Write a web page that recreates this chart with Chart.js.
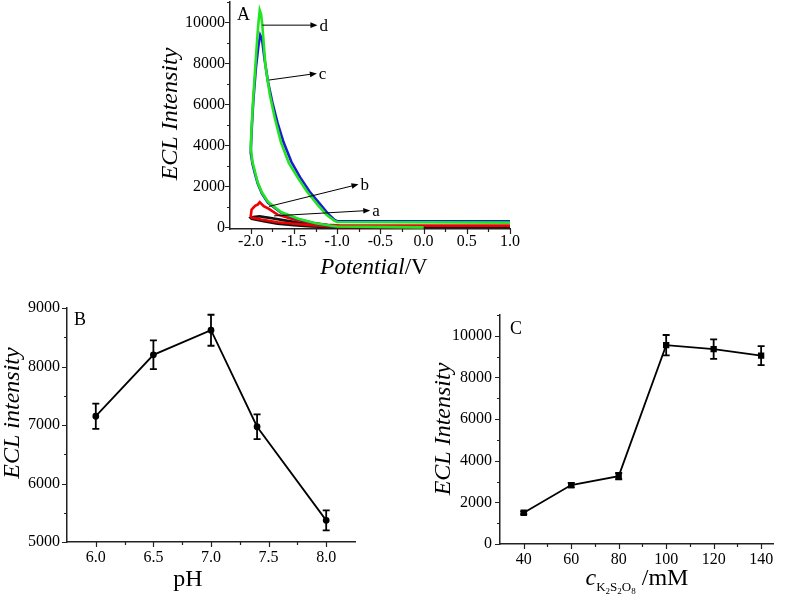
<!DOCTYPE html>
<html><head><meta charset="utf-8">
<script src="https://cdn.jsdelivr.net/npm/chart.js@4/dist/chart.umd.min.js"></script>
<style>
html,body{margin:0;padding:0;background:#fff;}
body{width:787px;height:598px;position:relative;overflow:hidden;}
canvas{position:absolute;display:block;}
</style></head><body>
<canvas id="cA" width="400" height="290" style="left:130px;top:0px;width:400px;height:290px"></canvas>
<canvas id="cB" width="400" height="308" style="left:0px;top:290px;width:400px;height:308px"></canvas>
<canvas id="cC" width="387" height="308" style="left:400px;top:290px;width:387px;height:308px"></canvas>
<script>
// ---------- Panel A data (potential / V, ECL intensity) ----------
const potD = [0.0,-1.0,-1.05,-1.25,-1.45,-1.65,-1.80,-1.87,-1.92,-1.95,-1.98,-2.0,-1.99,-1.97,-1.94,-1.915,-1.896,-1.88,-1.866,-1.83,-1.78,-1.72,-1.65,-1.56,-1.46,-1.35,-1.23,-1.12,-1.03,-1.0,1.0];
const eclD = [0,40,70,200,420,750,1250,1700,2200,2700,3200,3900,4900,6400,8300,9800,10600,10400,9870,7900,6500,5300,4150,3150,2450,1750,1120,600,320,260,230];
const potC = [-1.0,-1.05,-1.25,-1.45,-1.65,-1.80,-1.87,-1.92,-1.95,-1.98,-2.0,-1.99,-1.97,-1.94,-1.91,-1.89,-1.87,-1.84,-1.80,-1.75,-1.69,-1.62,-1.53,-1.43,-1.32,-1.20,-1.10,-1.03,-1.0,1.0];
const eclC = [30,60,190,400,720,1200,1650,2150,2600,3100,3650,4700,6200,7800,8900,9380,9200,8200,7100,6100,5100,4150,3200,2450,1750,1150,640,360,300,290];
const potB = [0.0,-1.0,-1.3,-1.5,-1.69,-1.88,-1.99,-2.0,-1.99,-1.95,-1.92,-1.896,-1.85,-1.79,-1.69,-1.5,-1.3,-1.11,-0.96,1.0];
const eclB = [10,20,100,175,250,380,480,550,870,1050,1110,1230,1030,900,620,380,215,130,90,83];
const potA = [0.0,-1.0,-1.3,-1.5,-1.69,-1.85,-1.99,-2.0,-1.97,-1.90,-1.84,-1.77,-1.61,-1.42,-1.23,-1.05,1.0];
const eclA = [5,10,50,100,175,300,420,460,500,540,500,460,340,214,130,50,15];
const curveLabels = ['a','b','c','d'];
const arrowFrom = [[-1.73,560],[-1.79,1020],[-1.79,7190],[-1.866,9870]];
const arrowTo = [[-0.617,828],[-0.753,2100],[-1.235,7515],[-1.228,9870]];
const xTicksA = [-2.0,-1.5,-1.0,-0.5,0.0,0.5,1.0];
const yTicksA = [0,2000,4000,6000,8000,10000];

// ---------- Panel B data ----------
const pH = [6.0,6.5,7.0,7.4,8.0];
const pHIntensity = [7150,8200,8620,6970,5370];
const pHError = [215,245,265,210,170];
const xTicksB = [6.0,6.5,7.0,7.5,8.0];
const yTicksB = [5000,6000,7000,8000,9000];

// ---------- Panel C data ----------
const conc = [40,60,80,100,120,140];
const concIntensity = [1500,2830,3260,9550,9360,9050];
const concError = [70,110,150,490,465,455];
const xTicksC = [40,60,80,100,120,140];
const yTicksC = [0,2000,4000,6000,8000,10000];

const SERIF = '"Liberation Serif","Times New Roman",serif';
const AX = '#222';

function pts(xs, ys){ return xs.map((x,i)=>({x:x, y:ys[i]})); }

function drawRich(ctx, segs, x, y, rot){
  ctx.save();
  ctx.translate(x, y);
  if (rot) ctx.rotate(-Math.PI/2);
  let w = 0;
  segs.forEach(s=>{ ctx.font = s.f; w += ctx.measureText(s.t).width; });
  let cx = -w/2;
  ctx.fillStyle = '#000';
  ctx.textBaseline = 'alphabetic';
  ctx.textAlign = 'left';
  segs.forEach(s=>{ ctx.font = s.f; ctx.fillText(s.t, cx, s.dy||0); cx += ctx.measureText(s.t).width; });
  ctx.restore();
}

function makeDeco(cfg){
  return {
    id: 'deco',
    afterDatasetsDraw(chart){
      const ctx = chart.ctx;
      if (cfg.err){
        const meta = chart.getDatasetMeta(0);
        const ys = chart.scales.y;
        const ds = chart.data.datasets[0].data;
        ctx.save();
        ctx.strokeStyle = '#000'; ctx.lineWidth = 1.8;
        meta.data.forEach((p,i)=>{
          const v = ds[i].y, e = cfg.err[i];
          const t = ys.getPixelForValue(v+e), b = ys.getPixelForValue(v-e);
          ctx.beginPath();
          ctx.moveTo(p.x, t); ctx.lineTo(p.x, b);
          ctx.moveTo(p.x-3.5, t); ctx.lineTo(p.x+3.5, t);
          ctx.moveTo(p.x-3.5, b); ctx.lineTo(p.x+3.5, b);
          ctx.stroke();
        });
        ctx.restore();
      }
    },
    afterDraw(chart){
      const ctx = chart.ctx, ca = chart.chartArea;
      const xs = chart.scales.x, ys = chart.scales.y;
      ctx.save();
      ctx.strokeStyle = AX; ctx.lineWidth = 1.2;
      ctx.beginPath();
      cfg.xMajor.forEach(v=>{ const p = Math.round(xs.getPixelForValue(v))+0.5; ctx.moveTo(p, ca.bottom); ctx.lineTo(p, ca.bottom+5); });
      cfg.xMinor.forEach(v=>{ const p = Math.round(xs.getPixelForValue(v))+0.5; ctx.moveTo(p, ca.bottom); ctx.lineTo(p, ca.bottom+3); });
      cfg.yMajor.forEach(v=>{ const p = Math.round(ys.getPixelForValue(v))+0.5; ctx.moveTo(ca.left, p); ctx.lineTo(ca.left-5, p); });
      cfg.yMinor.forEach(v=>{ const p = Math.round(ys.getPixelForValue(v))+0.5; ctx.moveTo(ca.left, p); ctx.lineTo(ca.left-3, p); });
      ctx.stroke();
      ctx.restore();
      drawRich(ctx, cfg.yTitle.segs, cfg.yTitle.x, cfg.yTitle.y, true);
      drawRich(ctx, cfg.xTitle.segs, cfg.xTitle.x, cfg.xTitle.y, false);
      ctx.save();
      ctx.font = '18px ' + SERIF; ctx.fillStyle = '#000'; ctx.textAlign = 'left'; ctx.textBaseline = 'alphabetic';
      ctx.fillText(cfg.letter, ca.left + cfg.letterDx, ca.top + cfg.letterDy);
      ctx.restore();
      if (cfg.arrows){
        ctx.save();
        ctx.strokeStyle = '#000'; ctx.fillStyle = '#000'; ctx.lineWidth = 1;
        ctx.font = '17px ' + SERIF; ctx.textBaseline = 'middle'; ctx.textAlign = 'left';
        cfg.arrows.labels.forEach((lab,i)=>{
          const x0 = xs.getPixelForValue(cfg.arrows.from[i][0]), y0 = ys.getPixelForValue(cfg.arrows.from[i][1]);
          const x1 = xs.getPixelForValue(cfg.arrows.to[i][0]), y1 = ys.getPixelForValue(cfg.arrows.to[i][1]);
          const ang = Math.atan2(y1-y0, x1-x0);
          ctx.beginPath(); ctx.moveTo(x0,y0); ctx.lineTo(x1 - 5*Math.cos(ang), y1 - 5*Math.sin(ang)); ctx.stroke();
          ctx.beginPath();
          ctx.moveTo(x1, y1);
          ctx.lineTo(x1 - 7*Math.cos(ang) + 2.8*Math.sin(ang), y1 - 7*Math.sin(ang) - 2.8*Math.cos(ang));
          ctx.lineTo(x1 - 7*Math.cos(ang) - 2.8*Math.sin(ang), y1 - 7*Math.sin(ang) + 2.8*Math.cos(ang));
          ctx.closePath(); ctx.fill();
          ctx.fillText(lab, x1 + 2, y1 + 1);
        });
        ctx.restore();
      }
    }
  };
}

function minors(lo, hi, step, skip){
  const out = [];
  const n0 = Math.ceil(lo/step - 1e-9), n1 = Math.floor(hi/step + 1e-9);
  for (let n=n0; n<=n1; n++){
    const v = +(n*step).toFixed(6);
    if (!skip.some(s=>Math.abs(s-v)<1e-6)) out.push(v);
  }
  return out;
}

function scaleOpts(min, max, ticks, fmt, fit, pad, isX){
  return {
    type: 'linear', min: min, max: max,
    afterBuildTicks: s => { s.ticks = ticks.map(v=>({value:v})); },
    afterFit: s => {
      if (isX) s.height = fit; else s.width = fit;
      s.paddingTop = 0; s.paddingBottom = 0; s.paddingLeft = 0; s.paddingRight = 0;
    },
    grid: { display: true, drawOnChartArea: false, drawTicks: false },
    border: { display: true, color: AX, width: 1.5 },
    ticks: { color: '#000', font: { family: SERIF, size: 16, lineHeight: 1.0 }, padding: pad,
             maxRotation: 0, autoSkip: false, callback: v => fmt(v) }
  };
}

Chart.defaults.animation = false;
Chart.defaults.events = [];

// ---------- Panel A ----------
new Chart(document.getElementById('cA'), {
  type: 'scatter',
  data: { datasets: [
    { data: pts(potD, eclD), borderColor: '#22e522', backgroundColor: '#22e522', order: 1 },
    { data: pts(potC, eclC), borderColor: '#1c1cd0', backgroundColor: '#1c1cd0', order: 2 },
    { data: pts(potB, eclB), borderColor: '#ee0000', backgroundColor: '#ee0000', order: 3 },
    { data: pts(potA, eclA), borderColor: '#111111', backgroundColor: '#111111', order: 4 }
  ].map(d=>Object.assign(d, { showLine: true, pointRadius: 0, borderWidth: 2.6, tension: 0, clip: false })) },
  options: {
    responsive: false, maintainAspectRatio: false,
    layout: { autoPadding: false, padding: { left: 0, top: 2, right: 20, bottom: 0 } },
    plugins: { legend: { display: false }, tooltip: { enabled: false } },
    scales: {
      x: scaleOpts(-2.24, 1.0, xTicksA, v=>v.toFixed(1), 61, 5, true),
      y: scaleOpts(-80, 11000, yTicksA, v=>String(v), 100, 5, false)
    }
  },
  plugins: [makeDeco({
    xMajor: xTicksA, xMinor: minors(-2.0, 1.0, 0.25, xTicksA),
    yMajor: yTicksA, yMinor: minors(0, 11000, 1000, yTicksA),
    yTitle: { x: 46.5, y: 114, segs: [{t:'ECL Intensity', f:'italic 24px '+SERIF}] },
    xTitle: { x: 244, y: 274, segs: [{t:'Potential', f:'italic 23px '+SERIF},{t:'/V', f:'23px '+SERIF}] },
    letter: 'A', letterDx: 7, letterDy: 18,
    arrows: { labels: curveLabels, from: arrowFrom, to: arrowTo }
  })]
});

// ---------- Panel B ----------
new Chart(document.getElementById('cB'), {
  type: 'scatter',
  data: { datasets: [
    { data: pts(pH, pHIntensity), showLine: true, borderColor: '#000', backgroundColor: '#000',
      borderWidth: 1.8, pointRadius: 2.5, pointStyle: 'circle', tension: 0, clip: false }
  ] },
  options: {
    responsive: false, maintainAspectRatio: false,
    layout: { autoPadding: false, padding: { left: 0, top: 18, right: 45, bottom: 0 } },
    plugins: { legend: { display: false }, tooltip: { enabled: false } },
    scales: {
      x: scaleOpts(5.75, 8.25, xTicksB, v=>v.toFixed(1), 56, 8, true),
      y: scaleOpts(5000, 9000, yTicksB, v=>String(v), 67, 7, false)
    }
  },
  plugins: [makeDeco({
    err: pHError,
    xMajor: xTicksB, xMinor: minors(6.0, 8.0, 0.25, xTicksB),
    yMajor: yTicksB, yMinor: minors(5000, 9000, 500, yTicksB),
    yTitle: { x: 18.5, y: 123, segs: [{t:'ECL intensity', f:'italic 24px '+SERIF}] },
    xTitle: { x: 188, y: 296, segs: [{t:'pH', f:'24px '+SERIF}] },
    letter: 'B', letterDx: 7, letterDy: 17
  })]
});

// ---------- Panel C ----------
new Chart(document.getElementById('cC'), {
  type: 'scatter',
  data: { datasets: [
    { data: pts(conc, concIntensity), showLine: true, borderColor: '#000', backgroundColor: '#000',
      borderWidth: 1.8, pointRadius: 3.2, pointStyle: 'rect', tension: 0, clip: false }
  ] },
  options: {
    responsive: false, maintainAspectRatio: false,
    layout: { autoPadding: false, padding: { left: 0, top: 25, right: 14, bottom: 0 } },
    plugins: { legend: { display: false }, tooltip: { enabled: false } },
    scales: {
      x: scaleOpts(30, 145, xTicksC, v=>String(v), 54, 8, true),
      y: scaleOpts(0, 11000, yTicksC, v=>String(v), 100, 8, false)
    }
  },
  plugins: [makeDeco({
    err: concError,
    xMajor: xTicksC, xMinor: minors(50, 130, 10, xTicksC),
    yMajor: yTicksC, yMinor: minors(1000, 11000, 1000, yTicksC),
    yTitle: { x: 50, y: 139, segs: [{t:'ECL Intensity', f:'italic 24px '+SERIF}] },
    xTitle: { x: 237, y: 295, segs: [
      {t:'c', f:'italic 24px '+SERIF},
      {t:'K', f:'13px '+SERIF, dy: 6},
      {t:'2', f:'9px '+SERIF, dy: 9},
      {t:'S', f:'13px '+SERIF, dy: 6},
      {t:'2', f:'9px '+SERIF, dy: 9},
      {t:'O', f:'13px '+SERIF, dy: 6},
      {t:'8', f:'9px '+SERIF, dy: 9},
      {t:' /mM', f:'24px '+SERIF}
    ] },
    letter: 'C', letterDx: 10, letterDy: 19
  })]
});
</script>
</body></html>
